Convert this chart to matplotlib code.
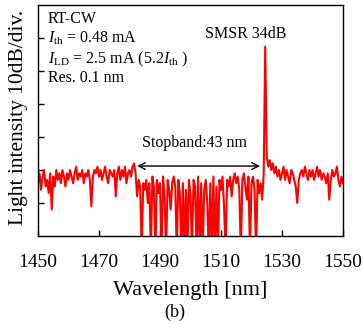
import numpy as np
import matplotlib
matplotlib.use('Agg')
import matplotlib.pyplot as plt

plt.rcParams['font.family'] = 'Liberation Serif'
plt.rcParams['mathtext.fontset'] = 'custom'
plt.rcParams['mathtext.rm'] = 'Liberation Serif'
plt.rcParams['mathtext.it'] = 'Liberation Serif:italic'

# spectrum, 0.5 nm steps from 1450 nm, intensity in dB above the plot bottom
wl_start = 1450.0
wl_step = 0.5
intensity = [
    16, 19, 14, 18, 20, 15, 17, 13, 19, 8,
    18, 15, 20, 17, 19, 16, 20, 18, 15, 19,
    17, 20, 18, 16, 19, 21, 17, 19, 18, 20,
    16, 19, 18, 20, 17, 9, 18, 20, 19, 21,
    18, 20, 17, 19, 21, 18, 16, 20, 19, 18,
    20, 12, 19, 21, 17, 20, 18, 21, 16, 19,
    20, 18, 21, 22, 19, 12, 17, 15, -5, 16,
    14, 17, 10, 16, -5, 18, 15, -5, 17, 13,
    16, -5, 18, 12, -5, 17, 14, 8, 16, 18,
    15, -5, 17, 13, -5, 16, -5, 14, -5, 17,
    12, -5, 17, 15, -5, 18, -5, 16, -5, 14,
    17, 10, -5, 16, -5, 18, -5, 15, -5, 17,
    14, 18, 9, -5, 17, 15, 18, 12, 17, 19,
    16, 18, 14, -5, 17, 19, 15, 11, 18, -5,
    16, 18, 14, -5, 17, 13, 16, 11, 19, 57.4,
    24, 21, 23, 20, 22, 19, 21, 18, 20, 17,
    19, 21, 17, 20, 18, 16, 20, 19, 17, 15,
    10, 17, 19, 20, 18, 21, 19, 17, 20, 18,
    20, 17, 19, 21, 18, 20, 17, 19, 18, 16,
    19, 11, 17, 20, 18, 19, 21, 17, 15, 18,
    16,
]
wavelength = wl_start + wl_step * np.arange(len(intensity))

stop_lo, stop_hi, arrow_y = 1482.5, 1522.8, 21.2
xticks = [1450, 1470, 1490, 1510, 1530, 1550]

fig = plt.figure(figsize=(3.64, 3.28), dpi=100)
ax = fig.add_axes([38 / 364, 1 - 236 / 328, 305 / 364, 231 / 328])

ax.plot(wavelength, intensity, color='#ff0000', lw=1.5)

ax.set_xlim(1450, 1550)
ax.set_ylim(0, 70)
ax.set_xticks(xticks)
ax.set_yticks(range(10, 70, 10))
ax.set_yticklabels([])
ax.tick_params(direction='in', length=4, width=1, labelsize=14)
ax.tick_params(axis='x', pad=13)
for s in ax.spines.values():
    s.set_linewidth(1)

fig.text(190 / 364, 1 - 290 / 328, 'Wavelength [nm]', fontsize=16, ha='center', va='center')
fig.text(19 / 364, 1 - 117 / 328, 'Light intensity 10dB/div.', fontsize=15.5,
         rotation=90, ha='center', va='center')
fig.text(175 / 364, 1 - 312 / 328, '(b)', fontsize=13, ha='center', va='center')

ax.annotate('', xy=(stop_hi, arrow_y), xytext=(stop_lo, arrow_y),
            arrowprops=dict(arrowstyle='<->', lw=1, color='black', mutation_scale=12,
                            shrinkA=0, shrinkB=0))
ax.text(1501.3, 28.3, 'Stopband:43 nm', fontsize=11.5, ha='center', va='center')
ax.text(1518.0, 61.3, 'SMSR 34dB', fontsize=11.5, ha='center', va='center')

ax.text(1453.2, 65.8, 'RT-CW', fontsize=11.5, ha='left', va='center')
ax.text(1453.2, 60.0, r'$I_{\rm th}$ = 0.48 mA', fontsize=11.5, ha='left', va='center')
ax.text(1453.2, 53.6, r'$I_{\rm LD}$ = 2.5 mA (5.2$I_{\rm th}$ )', fontsize=11.5, ha='left', va='center')
ax.text(1453.2, 47.9, 'Res. 0.1 nm', fontsize=11.5, ha='left', va='center')

fig.savefig('out.png', dpi=100)
